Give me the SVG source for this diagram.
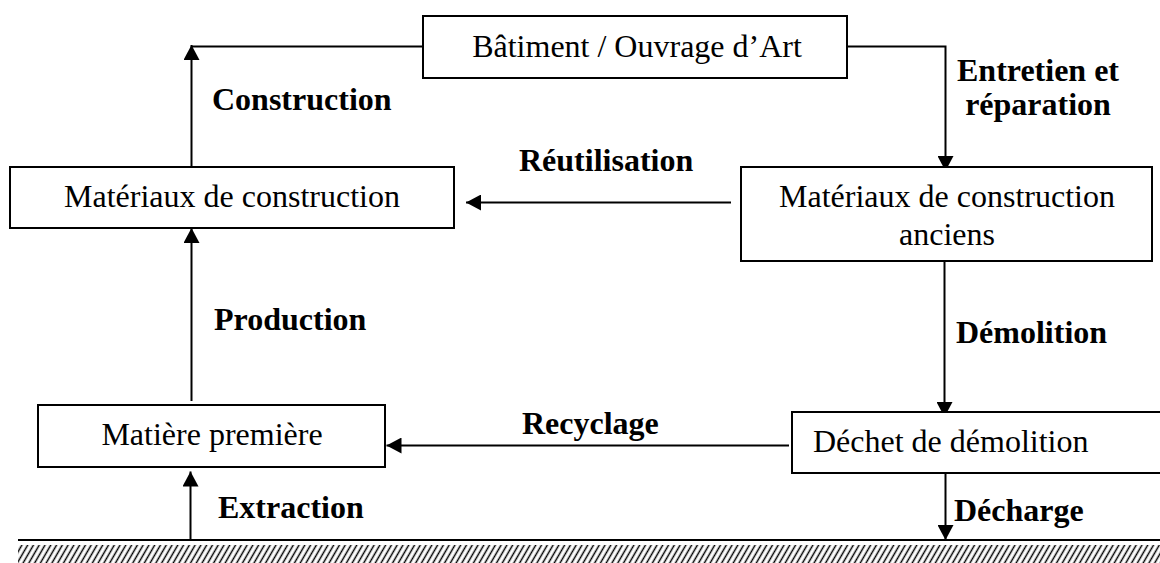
<svg xmlns="http://www.w3.org/2000/svg" width="1160" height="563" viewBox="0 0 1160 563">
  <style>
    .box { fill: #fff; stroke: #000; stroke-width: 2; }
    .node { font-family: "Liberation Serif", "Times New Roman", serif; font-size: 32px; fill: #000; }
    .lbl { font-family: "Liberation Serif", "Times New Roman", serif; font-size: 32px; font-weight: bold; fill: #000; }
    .edge { fill: none; stroke: #000; stroke-width: 2; }
    .arr { marker-end: url(#ah); }
  </style>
  <defs>
    <marker id="ah" markerUnits="userSpaceOnUse" markerWidth="16" markerHeight="16" refX="15" refY="8" orient="auto">
      <path d="M0,0 L15,8 L0,16 Z" fill="#000"/>
    </marker>
    <pattern id="hatch" patternUnits="userSpaceOnUse" width="5" height="10" patternTransform="rotate(30)">
      <line x1="1.5" y1="-1" x2="1.5" y2="11" stroke="#000" stroke-width="1.5"/>
    </pattern>
  </defs>
  <rect width="1160" height="563" fill="#fff"/>

  <g id="ground">
    <line x1="18" y1="540" x2="1160" y2="540" stroke="#000" stroke-width="2"/>
    <rect x="18" y="545" width="1142" height="18" fill="url(#hatch)"/>
  </g>

  <g id="connectors">
    <path class="edge" d="M423,46.5 H191.5"/>
    <path class="edge arr" d="M191.5,167 V45"/>
    <path class="edge arr" d="M847,46.5 H945.5 V171"/>
    <path class="edge arr" d="M731,202.5 H466"/>
    <path class="edge arr" d="M191.5,401 V228"/>
    <path class="edge arr" d="M944.5,262 V417"/>
    <path class="edge arr" d="M789,445.5 H386.5"/>
    <path class="edge arr" d="M190.5,540 V471.5"/>
    <path class="edge arr" d="M945.5,473 V540"/>
  </g>

  <g id="labels">
    <text class="lbl" x="212" y="110">Construction</text>
    <text class="lbl" x="519" y="171">Réutilisation</text>
    <text class="lbl" x="1038" y="81" text-anchor="middle">Entretien et</text>
    <text class="lbl" x="1038" y="115" text-anchor="middle">réparation</text>
    <text class="lbl" x="214" y="330">Production</text>
    <text class="lbl" x="956" y="343">Démolition</text>
    <text class="lbl" x="522" y="434">Recyclage</text>
    <text class="lbl" x="218" y="518">Extraction</text>
    <text class="lbl" x="954" y="521">Décharge</text>
  </g>

  <g id="node-batiment">
    <rect class="box" x="423" y="16" width="424" height="62"/>
    <text class="node" x="637" y="57" text-anchor="middle">Bâtiment / Ouvrage d’Art</text>
  </g>
  <g id="node-materiaux">
    <rect class="box" x="10" y="167" width="444" height="61"/>
    <text class="node" x="232" y="207" text-anchor="middle">Matériaux de construction</text>
  </g>
  <g id="node-materiaux-anciens">
    <rect class="box" x="741" y="167" width="411" height="94"/>
    <text class="node" x="947" y="207" text-anchor="middle">Matériaux de construction</text>
    <text class="node" x="947" y="245" text-anchor="middle">anciens</text>
  </g>
  <g id="node-matiere">
    <rect class="box" x="38" y="405" width="347" height="62"/>
    <text class="node" x="212" y="445" text-anchor="middle">Matière première</text>
  </g>
  <g id="node-dechet">
    <rect class="box" x="792" y="412" width="380" height="61"/>
    <text class="node" x="813" y="452">Déchet de démolition</text>
  </g>
</svg>
